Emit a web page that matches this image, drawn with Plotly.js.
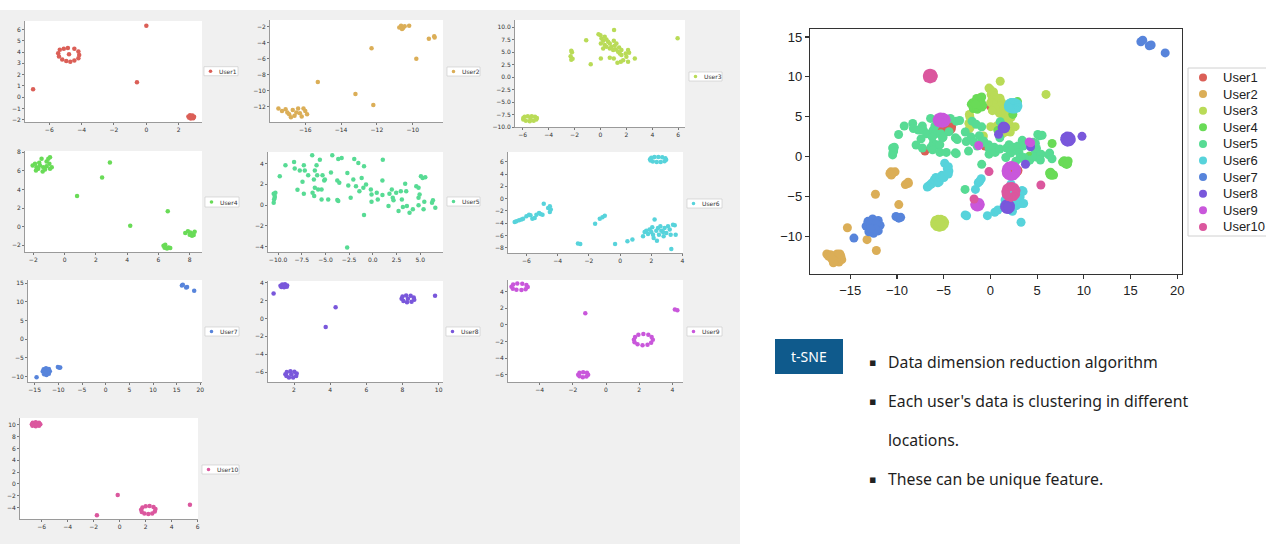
<!DOCTYPE html>
<html><head><meta charset="utf-8">
<script src="https://cdn.plot.ly/plotly-3.0.1.min.js"></script>
<style>html,body{margin:0;padding:0;background:#fff;}#chart{width:1266px;height:544px;}</style>
</head><body><div id="chart"></div>
<script>
// ---------------- DATA ----------------
const users = ['User1','User2','User3','User4','User5','User6','User7','User8','User9','User10'];
const colors = ['#db5f57','#dbae57','#b9db57','#69db57','#57db94','#57d3db','#5784db','#7957db','#c957db','#db579e'];

const u1x = [-5.35,-5.45,-5.4,-5.2,-4.95,-4.7,-4.45,-4.2,-4.15,-4.2,-4.45,-4.85,-5.1,-4.78, 0.0,-0.58,-7.0, 2.6,2.7,2.85,2.95,2.9,2.75,2.65,2.8];
const u1y = [4.2,3.9,3.6,3.35,3.2,3.15,3.25,3.45,3.75,4.05,4.3,4.35,4.3,3.8, 6.33,1.33,0.71, -1.7,-1.6,-1.62,-1.72,-1.85,-1.88,-1.82,-1.75];

const u2x = [-10.75,-10.65,-10.55,-10.45,-10.2,-10.6, -9.1,-8.8,-8.78, -9.8, -12.3, -15.3, -13.2, -12.2, -17.5,-17.3,-17.1,-16.9,-16.7,-16.6,-16.4,-16.3,-16.2,-16.0,-15.9,-16.5,-16.8,-17.0,-16.1];
const u2y = [-2.1,-1.9,-2.2,-1.95,-1.9,-2.3, -3.5,-3.2,-3.35, -6.0, -4.7, -8.9, -10.4, -11.75, -12.2,-12.5,-12.3,-12.9,-12.4,-13.1,-12.2,-12.8,-13.2,-12.5,-12.9,-12.7,-13.3,-12.7,-12.2];

const u3x = [-5.95,-5.85,-5.6,-5.3,-5.05,-4.9,-4.95,-5.15,-5.45,-5.75,-5.95,-5.4, -2.25,-2.2,-2.3,-2.25,-2.15, -1.1,-0.75,1.05,-0.15,0.0, 0.08,0.21,0.33,0.46,0.59,0.03,0.33,0.72,0.85,1.03,1.23,0.72,0.98,1.18,1.36,1.1,1.44,1.62,0.46,0.21, 1.49,1.62,1.95,2.13,2.21,2.0,2.13,1.57,1.31,1.75,0.72,1.03,2.65,0.03, 5.95];
const u3y = [-8.2,-7.95,-7.85,-7.85,-7.95,-8.2,-8.5,-8.75,-8.85,-8.75,-8.5,-8.35, 5.3,5.0,4.2,3.5,3.7, 7.4,2.6,9.45,8.6,8.4, 7.79,7.32,8.12,7.58,7.11,6.78,6.44,6.78,6.11,7.32,6.78,5.77,5.44,5.57,5.1,6.31,5.97,5.44,6.11,5.77, 4.77,4.43,4.77,5.44,4.9,4.09,3.09,3.09,2.89,3.42,3.89,3.76,3.76,3.76, 7.8];

const u4x = [-2.04,-1.89,-1.79,-1.68,-1.83,-1.62,-1.47,-1.36,-1.4,-1.25,-1.15,-1.04,-0.93,-0.97,-0.82,-0.93,-1.15,-1.57, 2.9,2.4,0.8,4.2,6.6, 7.72,7.89,8.04,8.21,8.32,8.15,8.0,8.26, 6.33,6.44,6.55,6.65,6.76,6.4];
const u4y = [6.58,6.76,6.4,6.22,6.04,6.87,7.3,6.4,5.94,6.15,7.01,7.3,7.48,6.76,6.4,6.22,6.51,6.58, 6.9,5.3,3.3,0.1,1.65, -0.68,-0.5,-0.61,-0.72,-0.54,-0.97,-0.86,-0.9, -2.05,-1.94,-2.34,-2.23,-2.3,-2.27];

const u5x = [-10.46,-10.35,-10.42,-10.46,-10.35,-10.28,-9.82,-9.22,-8.31,-8.24,-7.71,-7.28,-7.18,-6.82,-7.42,-7.95,-7.28,-6.4,-6.12,-5.94,-5.59,-5.87,-6.22,-6.12,-5.77,-6.36,-6.19,-5.41,-5.31,-5.13,-5.06,-5.41,-4.71,-4.42,-4.28,-3.65,-3.29,-3.75,-3.54,-3.75,-3.65,-2.69,-2.59,-2.34,-2.06,-1.96,-1.78,-1.53,-1.42,-1.18,-1.0,-0.93,-0.72,-0.93,-0.21,-0.14,-0.14,0.41,0.52,1.01,1.05,1.01,1.65,1.75,2.0,2.1,2.18,2.46,2.71,2.95,3.06,3.17,3.41,3.52,3.59,3.87,4.22,4.58,4.82,4.82,4.93,4.82,5.07,5.25,5.53,5.43,5.35,6.24,6.34,6.59,-2.71];
const u5y = [1.09,0.86,0.54,0.22,0.7,1.18,2.78,3.84,4.16,3.52,3.33,3.84,3.33,2.88,2.24,1.47,1.09,4.8,3.33,3.84,4.38,2.88,2.46,1.66,1.5,1.18,0.86,1.5,2.88,2.37,2.46,0.54,0.54,3.14,4.8,4.45,4.54,2.37,2.14,0.48,0.38,3.1,1.89,0.7,2.46,4.45,1.82,4.06,1.34,2.62,1.66,3.74,1.98,-0.96,1.5,1.02,0.32,1.18,0.54,0.96,4.38,2.37,-0.1,1.09,1.5,0.7,0.45,1.18,-0.58,1.34,0.54,-0.19,2.05,1.34,-0.1,-0.74,-0.42,1.82,1.66,0.7,1.02,-0.03,2.78,2.62,2.69,0.32,-0.42,0.22,0.45,-0.26,-4.1];

const u6x = [1.92,2.0,2.2,2.45,2.7,2.9,2.95,2.85,2.6,2.35,2.1,1.95, -6.75,-6.64,-6.47,-6.32,-6.21,-6.0,-5.83,-5.74,-5.62,-5.47,-5.36,-5.19,-5.1,-4.97,-4.89,-4.61,-4.5,-4.44,-4.5, -2.7,-2.55,-1.6,-1.3,-1.13,-0.98,-0.32,0.47,0.79, 1.47,1.57,1.68,1.79,1.89,2.0,2.06,2.11,2.15,2.21,2.32,2.36,2.43,2.49,2.58,2.64,2.75,2.79,2.85,2.96,3.07,3.18,3.24,3.39,3.5,3.56,3.28];
const u6y = [6.4,6.65,6.78,6.8,6.75,6.6,6.35,6.1,5.98,5.98,6.05,6.2, -3.8,-3.7,-3.53,-3.42,-3.26,-2.88,-2.61,-2.72,-3.26,-3.15,-2.61,-2.34,-2.5,-2.61,-0.82,-1.52,-1.25,-1.79,-2.17, -7.3,-7.4,-4.1,-3.26,-3.04,-2.77,-7.39,-6.96,-6.68, -6.14,-5.43,-5.22,-5.76,-5.05,-5.43,-4.67,-5.87,-6.41,-3.42,-5.22,-6.85,-4.78,-5.87,-4.51,-5.22,-5.43,-6.14,-4.78,-5.6,-4.51,-5.05,-5.87,-4.24,-4.35,-5.87,-8.21];

const u7x = [16.1,16.3,17.0,17.2,18.7, -13.3,-13.1,-12.6,-12.0,-11.8,-12.0,-12.5,-13.0,-12.5,-12.8,-12.2,-12.3,-12.8, -10.1,-9.8,-9.6, -14.6];
const u7y = [14.4,14.6,13.9,14.0,13.0, -8.7,-8.1,-7.8,-8.0,-8.6,-9.3,-9.6,-9.4,-8.8,-8.3,-8.4,-9.1,-9.0, -7.5,-7.7,-7.6, -10.2];

const u8x = [0.87, 1.25,1.35,1.5,1.62,1.6,1.45,1.3,1.45, 4.3, 3.75, 7.95,8.0,8.2,8.45,8.62,8.65,8.5,8.25,8.05,8.3, 9.8, 1.52,1.6,1.8,2.02,2.15,2.12,1.95,1.72,1.58,1.85];
const u8y = [2.8, 3.65,3.8,3.82,3.7,3.55,3.48,3.52,3.65, 1.25, -0.95, 2.2,2.45,2.58,2.55,2.35,2.1,1.88,1.82,1.95,2.2, 2.55, -6.25,-6.0,-5.9,-5.95,-6.15,-6.45,-6.62,-6.6,-6.45,-6.25];

const u9x = [-5.7,-5.6,-5.35,-5.05,-4.8,-4.72,-4.85,-5.1,-5.4,-5.62, -1.25, 4.15,4.3, 1.68,1.75,1.95,2.25,2.55,2.75,2.82,2.72,2.5,2.2,1.9,1.72, -1.68,-1.6,-1.38,-1.15,-1.08,-1.18,-1.4,-1.6];
const u9y = [4.6,4.85,4.98,4.95,4.8,4.55,4.3,4.2,4.22,4.35, 1.4, 1.85,1.75, -1.8,-1.45,-1.2,-1.1,-1.2,-1.45,-1.8,-2.15,-2.4,-2.45,-2.35,-2.1, -6.0,-5.78,-5.7,-5.78,-6.0,-6.22,-6.3,-6.2];

const u10x = [-6.75,-6.68,-6.45,-6.2,-6.1,-6.2,-6.45,-6.7,-6.43, -0.15, -1.75, 1.65,1.75,2.0,2.3,2.6,2.75,2.7,2.5,2.2,1.9,1.7, 5.4];
const u10y = [10.1,10.35,10.45,10.35,10.1,9.85,9.75,9.85,10.1, -1.87, -5.3, -4.4,-4.0,-3.78,-3.75,-3.9,-4.25,-4.7,-5.0,-5.1,-5.0,-4.75, -3.55];

const bulletLines = ['Data dimension reduction algorithm', "Each user's data is clustering in different", 'locations.', 'These can be unique feature.'];
const badgeText = 't-SNE';

const xs = [u1x,u2x,u3x,u4x,u5x,u6x,u7x,u8x,u9x,u10x];
const ys = [u1y,u2y,u3y,u4y,u5y,u6y,u7y,u8y,u9y,u10y];

// ---------------- LAYOUT HELPERS ----------------
const W = 1266, H = 544;
const px = v => v / W;
const py = v => 1 - v / H;

const panels = [
  {x:[25,202],  y:[21,122],  xr:[-7.5,3.44],   yr:[-2.19,6.75],  xt:[-6,2],   yt:[-2,1],   leg:[204,238,66.7,75.7]},
  {x:[270,443], y:[20,122],  xr:[-17.97,-8.31],yr:[-13.88,-1.17],xt:[-16,2],  yt:[-12,2],  leg:[447,480,67,76]},
  {x:[515,685], y:[20,127],  xr:[-6.59,6.52],  yr:[-10,11.48],   xt:[-6,2],   yt:[-10,2.5],leg:[689,722,72,81], yf:'.1f'},
  {x:[25,202],  y:[151,252], xr:[-2.53,8.79],  yr:[-2.72,8.14],  xt:[-2,2],   yt:[-2,2],   leg:[205,239,197,207]},
  {x:[268,443], y:[152,252], xr:[-11.06,7.4],  yr:[-4.54,5.12],  xt:[-10,2.5],yt:[-4,2],   leg:[447,480,197,206], xf:'.1f'},
  {x:[508,683], y:[152,253], xr:[-7.18,4.03],  yr:[-8.86,7.6],   xt:[-6,2],   yt:[-8,2],   leg:[687,722,199,208]},
  {x:[28,202],  y:[280,382], xr:[-16.41,20.35],yr:[-11.5,15.9],  xt:[-15,5],  yt:[-10,5],  leg:[205,239,327,336]},
  {x:[268,443], y:[281,382], xr:[0.56,10.24],  yr:[-7.11,4.19],  xt:[2,2],    yt:[-6,2],   leg:[446,480,327,336]},
  {x:[508,683], y:[280,382], xr:[-5.91,4.64],  yr:[-6.88,5.4],   xt:[-4,2],   yt:[-6,2],   leg:[687,722,327,336]},
  {x:[20,198],  y:[418,519], xr:[-7.66,6.02],  yr:[-5.95,11.15], xt:[-6,2],   yt:[-6,2],   leg:[202,239,465,474]}
];

const smallAx = {showgrid:false, zeroline:false, showline:true, linecolor:'#9a9a9a', linewidth:1,
  ticks:'outside', ticklen:2, tickwidth:1, tickcolor:'#777', tickmode:'linear',
  tickfont:{size:6, color:'#333', family:'DejaVu Sans'}, fixedrange:true};

const layout = {
  width:W, height:H, margin:{l:0,r:0,t:0,b:0,autoexpand:false},
  paper_bgcolor:'#ffffff', plot_bgcolor:'rgba(0,0,0,0)', showlegend:false,
  shapes:[], annotations:[]
};

layout.shapes.push({type:'rect', xref:'paper', yref:'paper', x0:0, x1:px(740), y0:py(544), y1:py(10),
  fillcolor:'#f0f0f0', line:{width:0}, layer:'below'});

const data = [];
panels.forEach((p,i) => {
  const k = i === 0 ? '' : String(i+1);
  layout['xaxis'+k] = Object.assign({}, smallAx, {domain:[px(p.x[0]),px(p.x[1])], range:p.xr,
    tick0:p.xt[0], dtick:p.xt[1], anchor:'y'+k, tickformat:p.xf || ''});
  layout['yaxis'+k] = Object.assign({}, smallAx, {domain:[py(p.y[1]),py(p.y[0])], range:p.yr,
    tick0:p.yt[0], dtick:p.yt[1], anchor:'x'+k, tickformat:p.yf || ''});
  layout.shapes.push({type:'rect', xref:'paper', yref:'paper', x0:px(p.x[0]), x1:px(p.x[1]),
    y0:py(p.y[1]), y1:py(p.y[0]), fillcolor:'#ffffff', line:{width:0}, layer:'below'});
  const L = p.leg, cy = (L[2]+L[3])/2, cx = L[0]+6.5;
  layout.shapes.push({type:'rect', xref:'paper', yref:'paper', x0:px(L[0]), x1:px(L[1]),
    y0:py(L[3]), y1:py(L[2]), fillcolor:'#ffffff', line:{width:0.6, color:'#c8c8c8'}, layer:'below'});
  layout.shapes.push({type:'circle', xref:'paper', yref:'paper', x0:px(cx-1.8), x1:px(cx+1.8),
    y0:py(cy+1.8), y1:py(cy-1.8), fillcolor:colors[i], line:{width:0}});
  layout.annotations.push({xref:'paper', yref:'paper', x:px(L[0]+13), y:py(cy), xanchor:'left', yanchor:'middle',
    text:users[i], showarrow:false, font:{size:6, color:'#333', family:'DejaVu Sans'}});
  data.push({type:'scatter', mode:'markers', x:xs[i], y:ys[i], xaxis:'x'+k, yaxis:'y'+k,
    marker:{size:4.5, color:colors[i]}, showlegend:false, hoverinfo:'skip'});
});

const bigAx = {showgrid:false, zeroline:false, showline:true, mirror:true, linecolor:'#333', linewidth:1.2,
  ticks:'outside', ticklen:4, tickwidth:1.2, tickcolor:'#333', tickmode:'linear',
  tickfont:{size:13, color:'#222', family:'Liberation Sans'}, fixedrange:true};
layout.xaxis11 = Object.assign({}, bigAx, {domain:[px(810),px(1182)], range:[-19.3,20.5], tick0:-15, dtick:5, anchor:'y11'});
layout.yaxis11 = Object.assign({}, bigAx, {domain:[py(274),py(29)], range:[-14.7,16], tick0:-10, dtick:5, anchor:'x11'});
for (let i = 0; i < 10; i++) {
  data.push({type:'scatter', mode:'markers', name:users[i], x:xs[i], y:ys[i], xaxis:'x11', yaxis:'y11',
    marker:{size:9, color:colors[i]}, showlegend:false});
}

layout.shapes.push({type:'rect', xref:'paper', yref:'paper', x0:px(1188), x1:px(1272), y0:py(236), y1:py(68),
  fillcolor:'#ffffff', line:{width:1, color:'#d0d0d0'}});
users.forEach((u,i) => {
  const cy = 77.5 + i*16.6;
  layout.shapes.push({type:'circle', xref:'paper', yref:'paper', x0:px(1199), x1:px(1207),
    y0:py(cy+4), y1:py(cy-4), fillcolor:colors[i], line:{width:0}});
  layout.annotations.push({xref:'paper', yref:'paper', x:px(1221), y:py(cy), xanchor:'left', yanchor:'middle',
    text:u, showarrow:false, font:{size:13, color:'#222', family:'Liberation Sans'}});
});

layout.shapes.push({type:'rect', xref:'paper', yref:'paper', x0:px(775), x1:px(843), y0:py(374), y1:py(339),
  fillcolor:'#0f5a8c', line:{width:0}});
layout.annotations.push({xref:'paper', yref:'paper', x:px(809), y:py(356.5), xanchor:'center', yanchor:'middle',
  text:badgeText, showarrow:false, font:{size:14, color:'#ffffff', family:'Noto Sans'}});

const lineY = [362, 401, 440, 479];
const hasBullet = [true, true, false, true];
bulletLines.forEach((t,i) => {
  if (hasBullet[i]) layout.annotations.push({xref:'paper', yref:'paper', x:px(872), y:py(lineY[i]), xanchor:'center', yanchor:'middle',
    text:'▪', showarrow:false, font:{size:11, color:'#222', family:'DejaVu Sans'}});
  layout.annotations.push({xref:'paper', yref:'paper', x:px(886), y:py(lineY[i]), xanchor:'left', yanchor:'middle',
    text:t, showarrow:false, font:{size:15.8, color:'#1e1e1e', family:'Noto Sans'}});
});

Plotly.newPlot('chart', data, layout, {staticPlot:true, displayModeBar:false});
</script>
</body></html>
